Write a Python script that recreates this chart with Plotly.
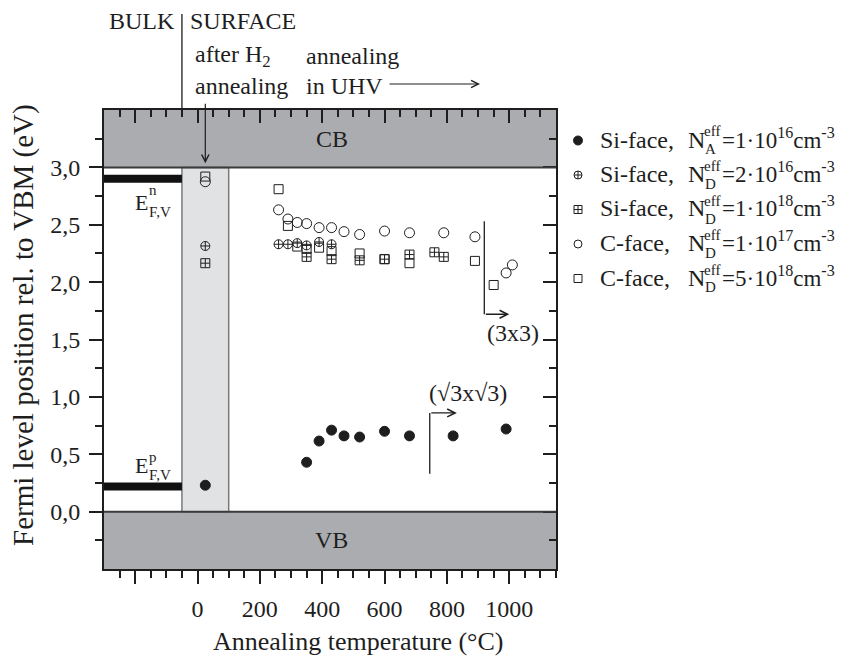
import plotly.graph_objects as go

# ---- measured Fermi level positions (eV above VBM) vs. annealing temperature (°C)
si_1e16_T = [25, 350, 390, 430, 470, 520, 600, 680, 820, 990]
si_1e16_E = [0.23, 0.43, 0.615, 0.71, 0.66, 0.65, 0.70, 0.66, 0.66, 0.72]

si_2e16_T = [25, 260, 290, 320, 350, 390, 430]
si_2e16_E = [2.315, 2.33, 2.33, 2.34, 2.32, 2.35, 2.33]

si_1e18_T = [25, 350, 430, 520, 600, 680, 760, 790]
si_1e18_E = [2.165, 2.22, 2.20, 2.19, 2.20, 2.24, 2.26, 2.22]

c_1e17_T = [25, 260, 290, 320, 350, 390, 430, 470, 520, 600, 680, 790, 890, 990, 1010]
c_1e17_E = [2.875, 2.63, 2.55, 2.52, 2.51, 2.475, 2.475, 2.44, 2.415, 2.445, 2.43, 2.43, 2.395, 2.08, 2.15]

c_5e18_T = [25, 260, 290, 320, 350, 390, 430, 520, 600, 680, 890, 950]
c_5e18_E = [2.92, 2.81, 2.49, 2.31, 2.29, 2.30, 2.27, 2.25, 2.20, 2.165, 2.185, 1.975]

# bulk Fermi levels of n- and p-type material
EF_n_bulk = 2.90
EF_p_bulk = 0.22

x_major = [-200, 0, 200, 400, 600, 800, 1000]
x_labels = ["", "0", "200", "400", "600", "800", "1000"]
y_major = [0.0, 0.5, 1.0, 1.5, 2.0, 2.5, 3.0]
y_labels = ["0,0", "0,5", "1,0", "1,5", "2,0", "2,5", "3,0"]

legend_labels = [
    ("Si-face,", "A", "=1·10<sup>16</sup>cm<sup>-3</sup>"),
    ("Si-face,", "D", "=2·10<sup>16</sup>cm<sup>-3</sup>"),
    ("Si-face,", "D", "=1·10<sup>18</sup>cm<sup>-3</sup>"),
    ("C-face,", "D", "=1·10<sup>17</sup>cm<sup>-3</sup>"),
    ("C-face,", "D", "=5·10<sup>18</sup>cm<sup>-3</sup>"),
]

# ---- geometry
W, H = 842, 657
PL, PR, PT, PB = 104, 556, 110, 569
XR = [-300, 1150]
YR = [-0.5, 3.5]
FONT = "Liberation Serif, Times New Roman, serif"
INK = "#1e1e1e"


def fx(px):
    return px / W


def fy(py):
    return 1 - py / H


fig = go.Figure()

series = [
    (c_5e18_T, c_5e18_E, "square-open", 9),
    (c_1e17_T, c_1e17_E, "circle-open", 10),
    (si_1e18_T, si_1e18_E, "square-cross-open", 9),
    (si_2e16_T, si_2e16_E, "circle-cross-open", 9),
    (si_1e16_T, si_1e16_E, "circle", 10),
]
for xs, ys, sym, sz in series:
    fig.add_trace(go.Scatter(
        x=xs, y=ys, mode="markers", showlegend=False, cliponaxis=False,
        marker=dict(symbol=sym, size=sz, color=INK, line=dict(color=INK, width=1)),
    ))

# legend keys on a hidden helper axis
key_syms = ["circle", "circle-cross-open", "square-cross-open", "circle-open", "square-open"]
key_sizes = [9, 8, 8, 8, 8]
for i, (sym, sz) in enumerate(zip(key_syms, key_sizes)):
    fig.add_trace(go.Scatter(
        x=[0.5], y=[i], mode="markers", xaxis="x3", yaxis="y3", showlegend=False,
        marker=dict(symbol=sym, size=sz, color=INK, line=dict(color=INK, width=1)),
    ))

# empty trace so the mirrored top/right axes are drawn
fig.add_trace(go.Scatter(x=[None], y=[None], xaxis="x2", yaxis="y2", showlegend=False))

shapes = []
band_fill = "#abacb0"
# conduction and valence band regions
shapes.append(dict(type="rect", xref="x", yref="y", x0=XR[0], x1=XR[1], y0=3.0, y1=YR[1],
                   fillcolor=band_fill, line=dict(width=0), layer="below"))
shapes.append(dict(type="rect", xref="x", yref="y", x0=XR[0], x1=XR[1], y0=YR[0], y1=0.0,
                   fillcolor=band_fill, line=dict(width=0), layer="below"))
shapes.append(dict(type="line", xref="x", yref="y", x0=XR[0], x1=XR[1], y0=3.0, y1=3.0,
                   line=dict(color="#3a3a3a", width=2)))
shapes.append(dict(type="line", xref="x", yref="y", x0=XR[0], x1=XR[1], y0=0.0, y1=0.0,
                   line=dict(color="#3a3a3a", width=2)))
# surface after H2 annealing
shapes.append(dict(type="rect", xref="x", yref="y", x0=-50, x1=100, y0=0.0, y1=3.0,
                   fillcolor="#e1e2e4", line=dict(color="#7a7a7a", width=1.5), layer="below"))
# bulk Fermi levels
for lev in (EF_n_bulk, EF_p_bulk):
    shapes.append(dict(type="line", xref="x", yref="y", x0=XR[0], x1=-50, y0=lev, y1=lev,
                       line=dict(color="#111111", width=8)))
# BULK | SURFACE divider
shapes.append(dict(type="line", xref="x", yref="paper", x0=-50, x1=-50, y0=fy(111), y1=fy(14),
                   line=dict(color=INK, width=1.3)))
# reconstruction markers
shapes.append(dict(type="line", xref="x", yref="y", x0=920, x1=920, y0=2.53, y1=1.72,
                   line=dict(color=INK, width=1.3)))
shapes.append(dict(type="line", xref="x", yref="y", x0=745, x1=745, y0=0.33, y1=0.86,
                   line=dict(color=INK, width=1.3)))

ann = []


def txt(x, y, s, size=24, xanchor="left", yanchor="middle", xref="paper", yref="paper"):
    ann.append(dict(x=x, y=y, xref=xref, yref=yref, text=s, showarrow=False,
                    xanchor=xanchor, yanchor=yanchor, font=dict(family=FONT, size=size, color=INK)))


# header texts
txt(fx(177), fy(21), "BULK", xanchor="right")
txt(fx(188), fy(21), "SURFACE")
txt(fx(193), fy(56), "after H<sub>2</sub>")
txt(fx(193), fy(86), "annealing")
txt(fx(304), fy(56), "annealing")
txt(fx(304), fy(86), "in UHV")
ann.append(dict(x=fx(480), y=fy(84), xref="paper", yref="paper", ax=-92, ay=0, text="",
                showarrow=True, arrowhead=5, arrowsize=1.2, arrowwidth=1.2, arrowcolor=INK))
ann.append(dict(x=25, y=3.035, xref="x", yref="y", ax=0, ay=-61, text="",
                showarrow=True, arrowhead=5, arrowsize=1.2, arrowwidth=1.2, arrowcolor=INK))

# band labels
txt(430, 3.25, "CB", xanchor="center", xref="x", yref="y")
txt(430, -0.25, "VB", xanchor="center", xref="x", yref="y")

# bulk Fermi level labels
txt(-208, 2.69, "E", size=22, xref="x", yref="y")
txt(-162, 2.80, "n", size=15, xref="x", yref="y")
txt(-162, 2.61, "F,V", size=15, xref="x", yref="y")
txt(-208, 0.40, "E", size=22, xref="x", yref="y")
txt(-162, 0.48, "p", size=15, xref="x", yref="y")
txt(-162, 0.32, "F,V", size=15, xref="x", yref="y")

# reconstruction labels and arrows
ann.append(dict(x=1000, y=1.72, xref="x", yref="y", ax=920, ay=1.72, axref="x", ayref="y",
                text="", showarrow=True, arrowhead=5, arrowsize=1.2, arrowwidth=1.3, arrowcolor=INK))
ann.append(dict(x=832, y=0.86, xref="x", yref="y", ax=745, ay=0.86, axref="x", ayref="y",
                text="", showarrow=True, arrowhead=5, arrowsize=1.2, arrowwidth=1.3, arrowcolor=INK))
txt(1013, 1.56, "(3x3)", xanchor="center", xref="x", yref="y")
txt(867, 1.03, "(√3x√3)", xanchor="center", xref="x", yref="y")

# legend text
for i, (face, sub, rest) in enumerate(legend_labels):
    yc = 140.5 + 34.5 * i
    txt(fx(598), fy(yc + 14), face, yanchor="bottom")
    txt(fx(686), fy(yc + 14), "N", yanchor="bottom")
    txt(fx(702), fy(yc - 9), "eff", size=15)
    txt(fx(703), fy(yc + 9), sub, size=15)
    txt(fx(720), fy(yc + 14), rest, size=23, yanchor="bottom")

# axis titles
txt(fx(358), fy(641), "Annealing temperature (°C)", size=26, xanchor="center")
ann.append(dict(x=fx(23), y=fy(325), xref="paper", yref="paper", text="Fermi level position rel. to VBM (eV)",
                showarrow=False, textangle=-90, xanchor="center", yanchor="middle",
                font=dict(family=FONT, size=29, color=INK)))

x_minor = [v for v in range(-250, 1151, 50) if v not in x_major]
y_minor = [-0.25 + 0.5 * k for k in range(8)]

tickfont = dict(family=FONT, size=24, color=INK)
xdom = [fx(PL), fx(PR)]
ydom = [fy(PB), fy(PT)]

fig.update_layout(
    width=W, height=H,
    margin=dict(l=0, r=0, t=0, b=0),
    paper_bgcolor="white", plot_bgcolor="white",
    shapes=shapes, annotations=ann,
    xaxis=dict(domain=xdom, range=XR, anchor="y", tickmode="array", tickvals=x_major, ticktext=x_labels,
               ticks="outside", ticklen=13, tickwidth=1.5, tickcolor=INK, tickfont=tickfont,
               showline=True, linewidth=2, linecolor=INK, showgrid=False, zeroline=False,
               ticklabelstandoff=4,
               minor=dict(tickmode="array", tickvals=x_minor, ticks="outside", ticklen=7,
                          tickwidth=1.5, tickcolor=INK, showgrid=False)),
    yaxis=dict(domain=ydom, range=YR, anchor="x", tickmode="array", tickvals=y_major, ticktext=y_labels,
               ticks="outside", ticklen=13, tickwidth=1.5, tickcolor=INK, tickfont=tickfont,
               showline=True, linewidth=2, linecolor=INK, showgrid=False, zeroline=False,
               ticklabelstandoff=4,
               minor=dict(tickmode="array", tickvals=y_minor, ticks="outside", ticklen=7,
                          tickwidth=1.5, tickcolor=INK, showgrid=False)),
    xaxis2=dict(overlaying="x", side="top", anchor="y", range=XR, tickmode="array", tickvals=x_major,
                showticklabels=False, ticks="inside", ticklen=13, tickwidth=1.5, tickcolor=INK,
                showline=True, linewidth=2, linecolor=INK, showgrid=False, zeroline=False,
                minor=dict(tickmode="array", tickvals=x_minor, ticks="inside", ticklen=7,
                           tickwidth=1.5, tickcolor=INK, showgrid=False)),
    yaxis2=dict(overlaying="y", side="right", anchor="x", range=YR, tickmode="array", tickvals=y_major,
                showticklabels=False, ticks="inside", ticklen=13, tickwidth=1.5, tickcolor=INK,
                showline=True, linewidth=2, linecolor=INK, showgrid=False, zeroline=False,
                minor=dict(tickmode="array", tickvals=y_minor, ticks="inside", ticklen=7,
                           tickwidth=1.5, tickcolor=INK, showgrid=False)),
    xaxis3=dict(domain=[fx(570), fx(586)], range=[0, 1], anchor="y3", visible=False),
    yaxis3=dict(domain=[fy(140.5 + 34.5 * 4.5), fy(140.5 - 34.5 * 0.5)], range=[4.5, -0.5],
                anchor="x3", visible=False),
)

fig.write_html("out.html")
